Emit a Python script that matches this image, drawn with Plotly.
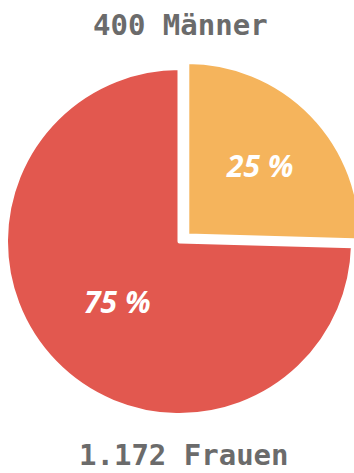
import plotly.graph_objects as go

labels = ["Männer", "Frauen"]
values = [400, 1172]
colors = ["#F5B45C", "#E2584F"]

total = sum(values)
texts = [f"{round(v / total * 100)} %" for v in values]


def de_num(v):
    return f"{v:,}".replace(",", ".")


W, H = 362, 473
R = 173.5              # pie radius in px (incl. white border)
big_c = (179.5, 241.5)  # centre of the whole pie (px from top-left)
off_c = (187.3, 235.5)  # centre of the pulled-out slice


def dom(c):
    cx, cy = c
    return dict(x=[(cx - R) / W, (cx + R) / W],
                y=[(H - cy - R) / H, (H - cy + R) / H])


pct_font = dict(family="Open Sans", size=30, color="white",
                style="italic", weight="bold")

common = dict(labels=labels, values=values, sort=False, direction="clockwise",
              rotation=0, textinfo="text", textposition="inside",
              insidetextorientation="horizontal", insidetextfont=pct_font,
              showlegend=False, hoverinfo="label+value+percent")

fig = go.Figure()
# remaining slice(s) in place
fig.add_trace(go.Pie(
    **common,
    text=["", texts[1]],
    marker=dict(colors=["rgba(0,0,0,0)", colors[1]],
                line=dict(color="white", width=[0, 4])),
    domain=dom(big_c),
))
# pulled-out slice
fig.add_trace(go.Pie(
    **common,
    text=[texts[0], ""],
    marker=dict(colors=[colors[0], "rgba(0,0,0,0)"],
                line=dict(color="white", width=[4, 0])),
    domain=dom(off_c),
))

title_font = dict(family="DejaVu Sans Mono", size=29, color="#6B6B6B",
                  weight="bold")
fig.add_annotation(
    text=f"{de_num(values[0])} {labels[0]}", x=180 / W, y=1 - 25 / H,
    xref="paper", yref="paper", showarrow=False, yanchor="middle",
    font=title_font,
)
fig.add_annotation(
    text=f"{de_num(values[1])} {labels[1]}", x=184 / W, y=1 - 455 / H,
    xref="paper", yref="paper", showarrow=False, yanchor="middle",
    font=title_font,
)

fig.update_layout(
    width=W,
    height=H,
    margin=dict(l=0, r=0, t=0, b=0),
    paper_bgcolor="white",
    plot_bgcolor="white",
)

fig.write_html("out.html")
